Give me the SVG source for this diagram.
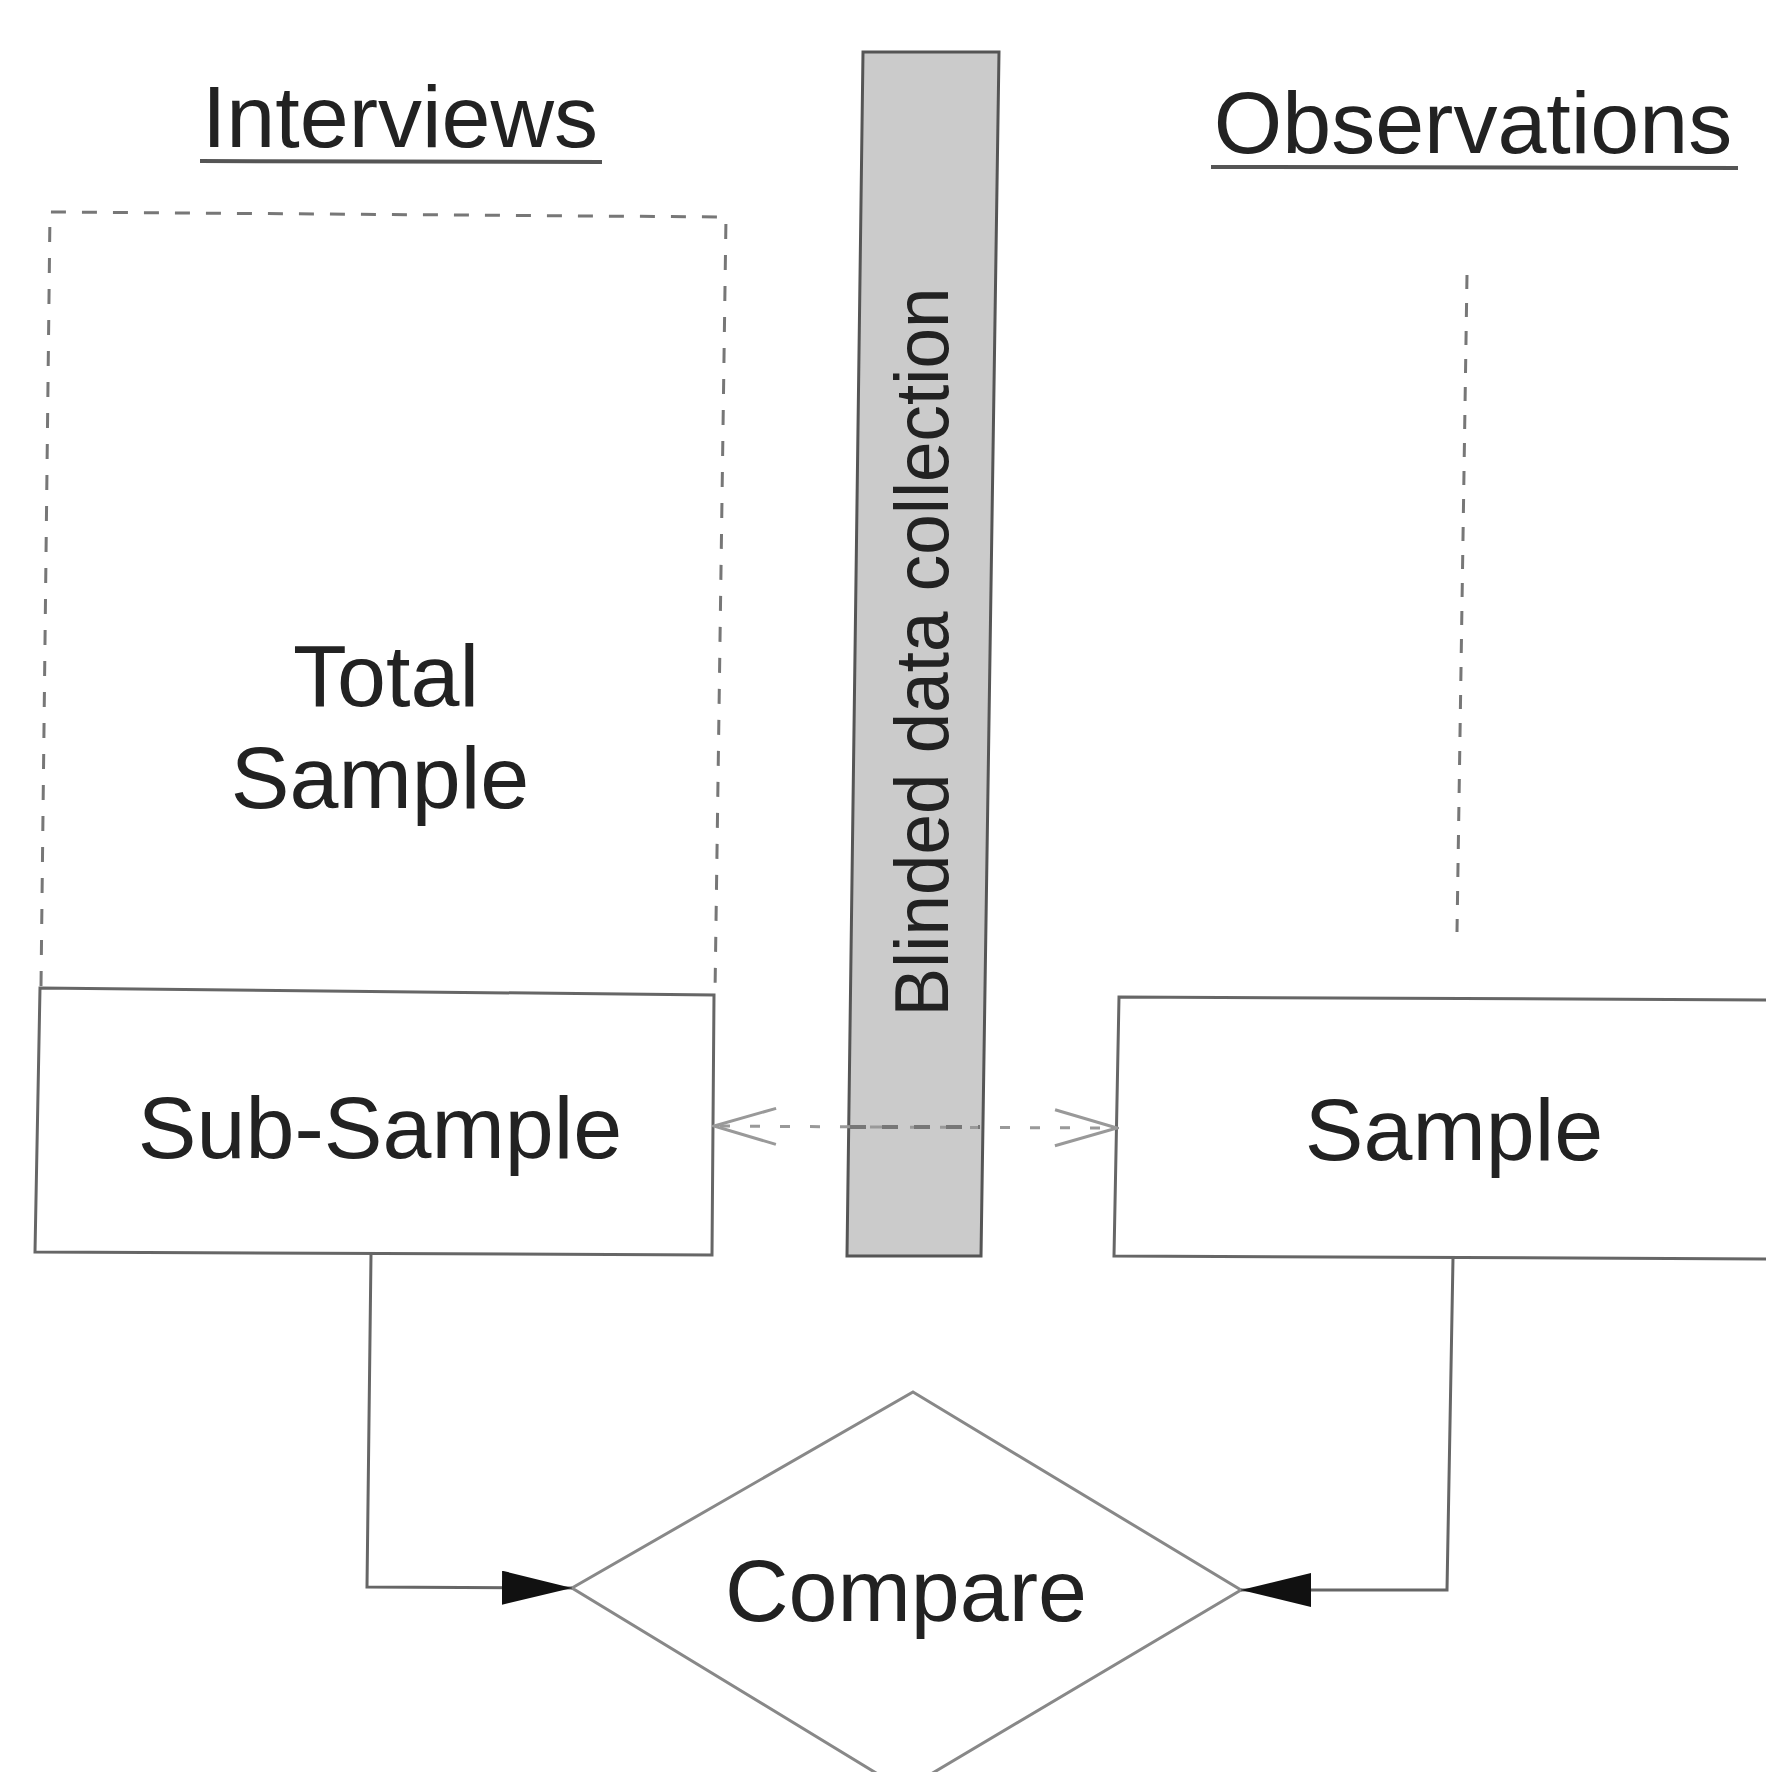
<svg xmlns="http://www.w3.org/2000/svg" width="1766" height="1772" viewBox="0 0 1766 1772">
<style>
.lbl{font-family:"Liberation Sans",Arial,sans-serif;font-size:88px;fill:#222;text-anchor:middle}
.box{fill:none;stroke:#666;stroke-width:3}
.dash{fill:none;stroke:#777;stroke-width:3;stroke-dasharray:15 16}
.conn{fill:none;stroke:#666;stroke-width:3}
.ul{stroke:#555;stroke-width:4}
</style>
<defs>
<marker id="tri" viewBox="0 0 70 34" refX="70" refY="17" markerWidth="70" markerHeight="34" markerUnits="userSpaceOnUse" orient="auto">
<path d="M0,0 L70,17 L0,34 Z" fill="#111"/>
</marker>
<marker id="vee" viewBox="0 0 66 40" refX="64" refY="20" markerWidth="66" markerHeight="40" markerUnits="userSpaceOnUse" orient="auto">
<path d="M2,2 L64,20 L2,38" fill="none" stroke="#999" stroke-width="3"/>
</marker>
</defs>
<rect width="1766" height="1772" fill="#fff"/>
<g id="heading-interviews">
<text class="lbl" x="400" y="147">Interviews</text>
<line class="ul" x1="200" y1="161" x2="602" y2="162"/>
</g>
<g id="heading-observations">
<text class="lbl" x="1473" y="153">Observations</text>
<line class="ul" x1="1211" y1="167" x2="1738" y2="168"/>
</g>
<g id="blinded-bar">
<polygon points="863,52 999,52 981,1256 847,1256" fill="#cbcbcb" stroke="#555" stroke-width="3"/>
<text class="lbl" font-size="76" style="font-size:76px" textLength="729" lengthAdjust="spacingAndGlyphs" transform="translate(948,652) rotate(-90)">Blinded data collection</text>
</g>
<g id="total-sample">
<path class="dash" d="M41,986 L50,212 L726,217 L715,993"/>
<text class="lbl" x="386" y="706">Total</text>
<text class="lbl" x="380" y="808">Sample</text>
</g>
<g id="sub-sample">
<path class="box" d="M40,988 L714,995 L712,1255 L35,1252 Z"/>
<text class="lbl" x="380" y="1158">Sub-Sample</text>
</g>
<g id="obs-sample">
<path class="dash" d="M1467,275 L1457,932" style="stroke-dasharray:14 14"/>
<path class="box" d="M1790,1000 L1119,997 L1114,1256 L1790,1259"/>
<text class="lbl" x="1454" y="1160">Sample</text>
</g>
<g id="compare">
<path d="M913,1392 L1241,1590 L904,1790 L572,1588 Z" fill="#fff" stroke="#888" stroke-width="3"/>
<text class="lbl" x="906" y="1621">Compare</text>
</g>
<g id="connectors">
<line x1="880" y1="1127" x2="714" y2="1126" stroke="#999" stroke-width="3" stroke-dasharray="10 20" marker-end="url(#vee)"/>
<line x1="880" y1="1127" x2="1117" y2="1128" stroke="#999" stroke-width="3" stroke-dasharray="10 20" marker-end="url(#vee)"/>
<line x1="850" y1="1127" x2="980" y2="1127" stroke="#777" stroke-width="4" stroke-dasharray="16 16"/>
<path class="conn" d="M371,1254 L367,1587 L572,1588" marker-end="url(#tri)"/>
<path class="conn" d="M1453,1258 L1447,1590 L1241,1590" marker-end="url(#tri)"/>
</g>
</svg>
